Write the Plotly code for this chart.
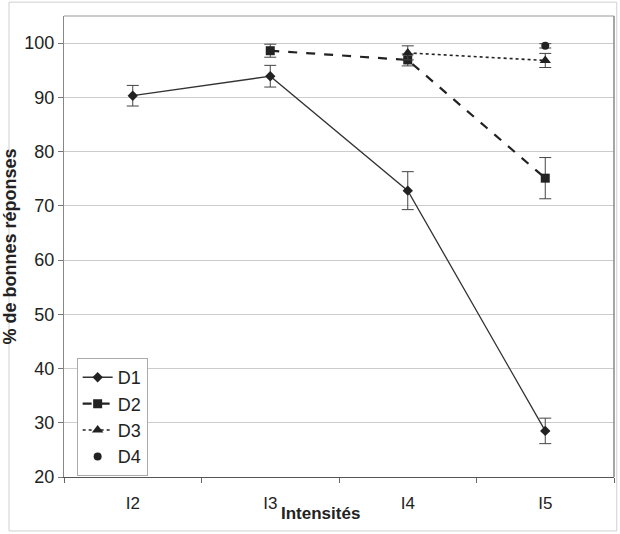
import plotly.graph_objects as go

categories = ["I2", "I3", "I4", "I5"]

d1_x = ["I2", "I3", "I4", "I5"]
d1_y = [90.3, 93.9, 72.8, 28.5]
d1_err = [1.9, 2.0, 3.5, 2.35]

d2_x = ["I3", "I4", "I5"]
d2_y = [98.6, 96.9, 75.1]
d2_err = [1.2, 1.1, 3.8]

d3_x = ["I4", "I5"]
d3_y = [98.2, 96.8]
d3_err = [1.3, 1.3]

d4_x = ["I5"]
d4_y = [99.5]
d4_err = [0.4]

y_ticks = [20, 30, 40, 50, 60, 70, 80, 90, 100]

ink = "#222222"
err_col = "#444444"

fig = go.Figure()

fig.add_trace(go.Scatter(
    x=d1_x, y=d1_y, name="D1", mode="lines+markers",
    line=dict(color="#333333", width=1.3),
    marker=dict(symbol="diamond", size=8, color=ink),
    error_y=dict(type="data", array=d1_err, color=err_col, thickness=1, width=6),
))
fig.add_trace(go.Scatter(
    x=d2_x, y=d2_y, name="D2", mode="lines+markers",
    line=dict(color=ink, width=2.2, dash="dash"),
    marker=dict(symbol="square", size=9, color=ink),
    error_y=dict(type="data", array=d2_err, color=err_col, thickness=1, width=6),
))
fig.add_trace(go.Scatter(
    x=d3_x, y=d3_y, name="D3", mode="lines+markers",
    line=dict(color=ink, width=1.6, dash="dot"),
    marker=dict(symbol="triangle-up", size=10, color=ink),
    error_y=dict(type="data", array=d3_err, color=err_col, thickness=1, width=6),
))
fig.add_trace(go.Scatter(
    x=d4_x, y=d4_y, name="D4", mode="markers",
    marker=dict(symbol="circle", size=8, color=ink),
    error_y=dict(type="data", array=d4_err, color=err_col, thickness=1, width=6),
))

fig.update_layout(
    width=620, height=534,
    margin=dict(l=57, r=6, t=16, b=57),
    paper_bgcolor="white", plot_bgcolor="white",
    font=dict(family="Liberation Sans, Arial, sans-serif", size=17, color="#222222"),
    showlegend=True,
    legend=dict(
        x=0.023, y=0.258, xanchor="left", yanchor="top",
        bgcolor="white", bordercolor="#aaaaaa", borderwidth=1,
        font=dict(size=18), tracegroupgap=0, itemwidth=30,
    ),
    xaxis=dict(
        type="category", categoryorder="array", categoryarray=categories,
        range=[-0.5, 3.5], showgrid=False, tickson="boundaries",
        ticks="outside", ticklen=5, tickcolor="#666666",
        showline=True, linecolor="#555555", linewidth=1.2, mirror=False,
        tickfont=dict(size=17), zeroline=False, ticklabelstandoff=10,
    ),
    yaxis=dict(
        range=[20, 105], tickvals=y_ticks, showgrid=True, gridcolor="#cccccc",
        gridwidth=1, ticks="outside", ticklen=5, tickcolor="#777777",
        showline=True, linecolor="#888888", linewidth=1, zeroline=False,
        tickfont=dict(size=18),
        title=dict(text="<b>% de bonnes réponses</b>", font=dict(size=18), standoff=6),
    ),
    shapes=[
        dict(type="line", xref="paper", yref="paper", x0=0, x1=1, y0=1, y1=1,
             line=dict(color="#999999", width=1)),
        dict(type="line", xref="paper", yref="paper", x0=1, x1=1, y0=0, y1=1,
             line=dict(color="#888888", width=1.5)),
        dict(type="rect", xref="paper", yref="paper",
             x0=-0.100, x1=1.005, y0=-0.117, y1=1.030,
             line=dict(color="#d0d0d0", width=1), layer="below"),
    ],
    annotations=[
        dict(text="<b>Intensités</b>", xref="paper", yref="paper",
             x=(317 - 57) / 557, y=-0.08, xanchor="center", yanchor="middle",
             showarrow=False, font=dict(size=17, color="#222222")),
    ],
)

fig.write_html("out.html")
